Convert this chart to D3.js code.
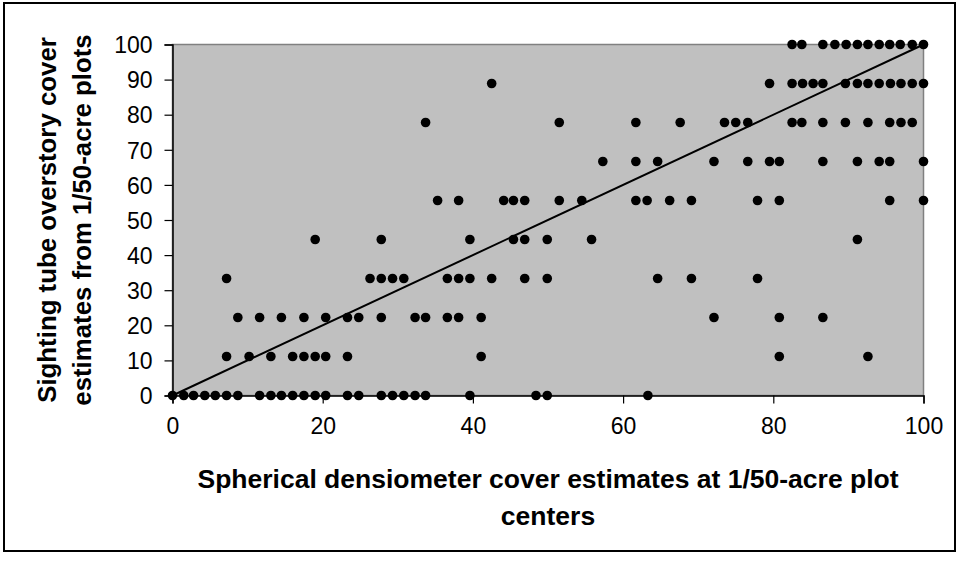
<!DOCTYPE html>
<html>
<head>
<meta charset="utf-8">
<script src="https://cdn.jsdelivr.net/npm/d3@7"></script>
<style>
  body { margin: 0; background: #fff; }
  svg text { font-family: "Liberation Sans", Arial, sans-serif; }
</style>
</head>
<body>
<div id="chart"></div>
<script>
// sighting tube levels (ninths of 100) and densiometer readings at each level
var tubeLevels = [0, 11.11, 22.22, 33.33, 44.44, 55.56, 66.67, 77.78, 88.89, 100];

var densAt0   = [0, 1.5, 2.8, 4.3, 5.7, 7.2, 8.7, 11.6, 13.1, 14.5, 16.0, 17.5, 19.0, 20.4, 23.3, 24.8, 27.8, 29.3, 30.8, 32.3, 33.7, 39.6, 48.4, 49.9, 63.3];
var densAt11  = [7.2, 10.2, 13.1, 16.0, 17.5, 19.0, 20.4, 23.3, 41.1, 80.8, 92.6];
var densAt22  = [8.7, 11.6, 14.5, 17.5, 20.4, 23.3, 24.8, 27.8, 32.3, 33.7, 36.6, 38.1, 41.1, 72.1, 80.8, 86.6];
var densAt33  = [7.2, 26.3, 27.8, 29.3, 30.8, 36.6, 38.1, 39.6, 42.5, 46.9, 49.9, 64.6, 69.1, 77.9];
var densAt44  = [19.0, 27.8, 39.6, 45.4, 46.9, 49.9, 55.8, 91.2];
var densAt56  = [35.3, 38.1, 44.1, 45.4, 46.9, 51.5, 54.5, 61.7, 63.2, 66.2, 69.1, 77.9, 80.8, 95.5, 100];
var densAt67  = [57.3, 61.7, 64.6, 72.1, 76.6, 79.5, 80.8, 86.6, 91.2, 94.1, 95.5, 100];
var densAt78  = [33.7, 51.5, 61.7, 67.6, 73.5, 75.0, 76.6, 82.5, 83.8, 86.6, 89.6, 92.6, 95.5, 97.0, 98.5];
var densAt89  = [42.5, 79.5, 82.5, 83.9, 85.3, 86.6, 89.6, 91.2, 92.6, 94.1, 95.6, 97.0, 98.5, 100];
var densAt100 = [82.5, 83.8, 86.6, 88.2, 89.7, 91.2, 92.6, 94.1, 95.5, 96.9, 98.5, 100];

var densByLevel = [densAt0, densAt11, densAt22, densAt33, densAt44, densAt56, densAt67, densAt78, densAt89, densAt100];

// 1:1 reference line
var lineX = [0, 100];
var lineY = [0, 100];

var xTicks = [0, 20, 40, 60, 80, 100];
var yTicks = [0, 10, 20, 30, 40, 50, 60, 70, 80, 90, 100];

var xTitle = "Spherical densiometer cover estimates at 1/50-acre plot";
var xTitle2 = "centers";
var yTitle = "Sighting tube overstory cover";
var yTitle2 = "estimates from 1/50-acre plots";

/// main
var width = 957, height = 562;
var plot = {left: 172.5, right: 923.5, top: 44.5, bottom: 395.5};

var svg = d3.select("#chart").append("svg")
    .attr("width", width)
    .attr("height", height);

// outer frame
svg.append("rect")
    .attr("x", 4).attr("y", 3)
    .attr("width", 951).attr("height", 548)
    .attr("fill", "#fff")
    .attr("stroke", "#000")
    .attr("stroke-width", 2);

var x = d3.scaleLinear().domain([0, 100]).range([plot.left, plot.right]);
var y = d3.scaleLinear().domain([0, 100]).range([plot.bottom, plot.top]);

// plot area
svg.append("rect")
    .attr("x", plot.left).attr("y", plot.top)
    .attr("width", plot.right - plot.left)
    .attr("height", plot.bottom - plot.top)
    .attr("fill", "#c0c0c0")
    .attr("stroke", "#808080")
    .attr("stroke-width", 1.5);

// axes
var xAxis = svg.append("g")
    .attr("class", "axis axis--x")
    .attr("transform", "translate(0," + plot.bottom + ")")
    .call(d3.axisBottom(x).tickValues(xTicks).tickSize(8).tickPadding(14).tickFormat(d3.format("d")));

var yAxis = svg.append("g")
    .attr("class", "axis axis--y")
    .attr("transform", "translate(" + plot.left + ",0)")
    .call(d3.axisLeft(y).tickValues(yTicks).tickSize(8).tickPadding(12).tickFormat(d3.format("d")));

svg.selectAll(".axis path").attr("stroke", "#000").attr("stroke-width", 1.5);
svg.selectAll(".axis line").attr("stroke", "#000").attr("stroke-width", 1.2);
svg.selectAll(".axis text")
    .attr("fill", "#000")
    .style("font-size", "23px");
yAxis.selectAll("text").attr("dy", "0.36em");

// 1:1 line
var line = d3.line()
    .x(function(d, i) { return x(lineX[i]); })
    .y(function(d, i) { return y(lineY[i]); });

svg.append("path")
    .datum(lineX)
    .attr("d", line)
    .attr("fill", "none")
    .attr("stroke", "#000")
    .attr("stroke-width", 2);

// points
var points = [];
densByLevel.forEach(function(arr, i) {
  arr.forEach(function(v) { points.push({x: v, y: tubeLevels[i]}); });
});

svg.append("g")
    .attr("class", "points")
    .selectAll("circle")
    .data(points)
    .enter().append("circle")
      .attr("cx", function(d) { return x(d.x); })
      .attr("cy", function(d) { return y(d.y); })
      .attr("r", 4.8)
      .attr("fill", "#000");

// titles
svg.append("text")
    .attr("x", 548).attr("y", 488)
    .attr("text-anchor", "middle")
    .style("font-size", "26.5px").style("font-weight", "bold")
    .text(xTitle);
svg.append("text")
    .attr("x", 548).attr("y", 525)
    .attr("text-anchor", "middle")
    .style("font-size", "26.5px").style("font-weight", "bold")
    .text(xTitle2);

var midY = (plot.top + plot.bottom) / 2;
svg.append("text")
    .attr("transform", "translate(56," + midY + ") rotate(-90)")
    .attr("text-anchor", "middle")
    .style("font-size", "25.8px").style("font-weight", "bold")
    .text(yTitle);
svg.append("text")
    .attr("transform", "translate(91," + midY + ") rotate(-90)")
    .attr("text-anchor", "middle")
    .style("font-size", "25.8px").style("font-weight", "bold")
    .text(yTitle2);
</script>
</body>
</html>
